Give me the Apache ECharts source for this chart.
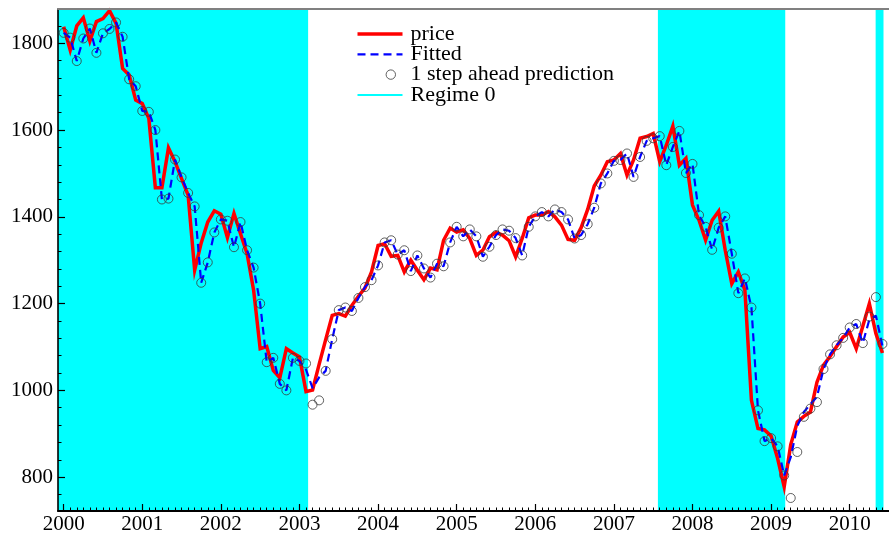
<!DOCTYPE html>
<html>
<head>
<meta charset="utf-8">
<script src="https://cdn.jsdelivr.net/npm/echarts@6/dist/echarts.min.js"></script>
<style>
  html, body { margin: 0; padding: 0; background: #ffffff; }
  #chart { width: 889px; height: 536px; }
</style>
</head>
<body>
<div id="chart"></div>
<script>
// Monthly series, first observation January 2000
const START_YEAR = 2000;

const price = [
  1838, 1784, 1840, 1859, 1805, 1850, 1857, 1875, 1846, 1742,
  1727, 1669, 1661, 1627, 1467, 1467, 1559, 1527, 1488, 1450,
  1277, 1340, 1388, 1414, 1406, 1352, 1408, 1361, 1315, 1231,
  1096, 1101, 1046, 1029, 1096, 1086, 1077, 997, 1001, 1060,
  1117, 1173, 1177, 1171, 1196, 1217, 1236, 1273, 1334, 1338,
  1309, 1311, 1273, 1300, 1277, 1255, 1282, 1278, 1346, 1374,
  1365, 1370, 1350, 1311, 1323, 1354, 1364, 1358, 1345, 1308,
  1350, 1398, 1404, 1404, 1412, 1400, 1381, 1348, 1346, 1375,
  1417, 1471, 1496, 1527, 1531, 1546, 1496, 1531, 1581, 1585,
  1592, 1527, 1565, 1609, 1519, 1535, 1427, 1392, 1346, 1392,
  1413, 1323, 1246, 1273, 1231, 977, 912, 909, 895, 843,
  778, 875, 927, 940, 950, 1019, 1058, 1078, 1101, 1123,
  1134, 1096, 1148, 1200, 1131, 1086
];

const fitted = [
  1824, 1813, 1759, 1811, 1834, 1778, 1823, 1833, 1848, 1815,
  1717, 1701, 1644, 1642, 1600, 1440, 1442, 1532, 1491, 1455,
  1424, 1248, 1295, 1364, 1394, 1391, 1330, 1388, 1323, 1283,
  1200, 1065, 1075, 1015, 1000, 1075, 1068, 1048, 1005, 1030,
  1045, 1118, 1185, 1191, 1183, 1213, 1238, 1254, 1288, 1341,
  1346, 1313, 1323, 1275, 1311, 1281, 1260, 1292, 1286, 1341,
  1377, 1355, 1371, 1355, 1308, 1331, 1358, 1371, 1368, 1351,
  1311, 1377, 1401, 1411, 1401, 1417, 1411, 1394, 1350, 1358,
  1383, 1421, 1477, 1500, 1529, 1531, 1546, 1492, 1538, 1575,
  1581, 1586, 1519, 1561, 1598, 1501, 1522, 1404, 1377, 1324,
  1375, 1401, 1315, 1224, 1258, 1191, 954, 883, 890, 871,
  804, 846, 918, 950, 968, 985, 1049, 1083, 1104, 1121,
  1145, 1153, 1109, 1163, 1172, 1102
];

const prediction = [
  1824, 1813, 1759, 1811, 1834, 1778, 1823, 1833, 1848, 1815,
  1717, 1701, 1644, 1642, 1600, 1440, 1442, 1532, 1491, 1455,
  1424, 1248, 1295, 1364, 1394, 1391, 1330, 1388, 1323, 1283,
  1200, 1065, 1075, 1015, 1000, 1075, 1068, 1062, 967, 977,
  1045, 1118, 1185, 1191, 1183, 1213, 1238, 1254, 1288, 1341,
  1346, 1313, 1323, 1275, 1311, 1281, 1260, 1292, 1286, 1341,
  1377, 1355, 1371, 1355, 1308, 1331, 1358, 1371, 1368, 1351,
  1311, 1377, 1401, 1411, 1401, 1417, 1411, 1394, 1350, 1358,
  1383, 1421, 1477, 1500, 1529, 1531, 1546, 1492, 1538, 1575,
  1581, 1586, 1519, 1561, 1598, 1501, 1522, 1404, 1377, 1324,
  1375, 1401, 1315, 1224, 1258, 1191, 954, 883, 890, 871,
  804, 752, 858, 939, 958, 973, 1049, 1083, 1104, 1121,
  1145, 1153, 1109, 1170, 1215, 1107
];

// Periods classified as regime 0 (decimal years)
const regimeZero = [
  [1999.928, 2003.11],
  [2007.56, 2009.18],
  [2010.33, 2010.43]
];

const yearTicks = [2000, 2001, 2002, 2003, 2004, 2005, 2006, 2007, 2008, 2009, 2010];
const valueTicks = [800, 1000, 1200, 1400, 1600, 1800];

const X_MIN = 1999.928, X_MAX = 2010.5;
const Y_MIN = 722, Y_MAX = 1879;

const toYear = i => START_YEAR + i / 12;
const asPairs = arr => arr.map((v, i) => [toYear(i), v]);

// Monthly minor ticks on the time axis, 40-unit minor ticks on the value axis
const monthTicks = [];
yearTicks.forEach(y => {
  for (let k = 0; k < 12; k++) {
    const v = y + k / 12;
    if (v <= X_MAX) monthTicks.push(v);
  }
});
const minorValueTicks = [];
for (let v = valueTicks[0] - 40; v < Y_MAX; v += 40) {
  if (v > Y_MIN) minorValueTicks.push(v);
}

const FONT = "'Liberation Serif', 'Times New Roman', serif";
const plainNumber = v => String(Math.round(v));

// Legend keys drawn as filled paths inside a 45x10 box
const KEY_SOLID = 'path://M0 0M45 10M0 3.25H45V6.75H0Z';
const KEY_DASHED = 'path://M0 0M45 10M0 3.9H8V6.1H0ZM13 3.9H21V6.1H13ZM26 3.9H34V6.1H26ZM39 3.9H45V6.1H39Z';
const KEY_CIRCLE = 'path://M0 0M45 10M38 5A4.7 4.7 0 1 1 28.6 5A4.7 4.7 0 1 1 38 5Z';
const KEY_THIN = 'path://M0 0M45 10M0 4H45V6H0Z';

const chart = echarts.init(document.getElementById('chart'), null, { renderer: 'canvas' });

chart.setOption({
  animation: false,
  backgroundColor: '#ffffff',
  grid: { left: 58, top: 9, width: 833, height: 502, containLabel: false },
  legend: {
    orient: 'vertical',
    left: 357,
    top: 23,
    padding: 0,
    itemWidth: 45,
    itemHeight: 10,
    itemGap: -1.7,
    selectedMode: false,
    textStyle: { fontFamily: FONT, fontSize: 22, color: '#000', padding: [0, 0, 0, 3] },
    data: [
      { name: 'price', icon: KEY_SOLID },
      { name: 'Fitted', icon: KEY_DASHED },
      { name: '1 step ahead prediction', icon: KEY_CIRCLE, itemStyle: { borderWidth: 1, borderColor: '#3a3a3a', color: 'rgba(0,0,0,0)' } },
      { name: 'Regime 0', icon: KEY_THIN }
    ]
  },
  xAxis: [
    {
      type: 'value', min: X_MIN, max: X_MAX, position: 'bottom', z: 5,
      axisLine: { show: true, onZero: false, lineStyle: { color: '#000', width: 2 } },
      axisTick: { show: true, inside: true, length: 7, customValues: yearTicks, lineStyle: { color: '#000', width: 1.2 } },
      axisLabel: { show: true, customValues: yearTicks, margin: 3, fontFamily: FONT, fontSize: 21, color: '#000', formatter: plainNumber },
      splitLine: { show: false }
    },
    {
      type: 'value', min: X_MIN, max: X_MAX, position: 'bottom', z: 5,
      axisLine: { show: false },
      axisTick: { show: true, inside: true, length: 3.5, customValues: monthTicks, lineStyle: { color: '#000', width: 1 } },
      axisLabel: { show: false },
      splitLine: { show: false }
    },
    {
      type: 'value', min: X_MIN, max: X_MAX, position: 'top', z: 5,
      axisLine: { show: true, onZero: false, lineStyle: { color: '#808080', width: 2 } },
      axisTick: { show: false },
      axisLabel: { show: false },
      splitLine: { show: false }
    }
  ],
  yAxis: [
    {
      type: 'value', min: Y_MIN, max: Y_MAX, position: 'left', z: 5,
      axisLine: { show: true, onZero: false, lineStyle: { color: '#000', width: 1.6 } },
      axisTick: { show: true, inside: true, length: 7, customValues: valueTicks, lineStyle: { color: '#000', width: 1.2 } },
      axisLabel: { show: true, customValues: valueTicks, margin: 5, fontFamily: FONT, fontSize: 21, color: '#000', formatter: plainNumber },
      splitLine: { show: false }
    },
    {
      type: 'value', min: Y_MIN, max: Y_MAX, position: 'left', z: 5,
      axisLine: { show: false },
      axisTick: { show: true, inside: true, length: 3.5, customValues: minorValueTicks, lineStyle: { color: '#000', width: 1 } },
      axisLabel: { show: false },
      splitLine: { show: false }
    }
  ],
  series: [
    {
      name: 'Regime 0',
      type: 'line',
      z: 0,
      data: [],
      symbol: 'none',
      color: '#00ffff',
      itemStyle: { color: '#00ffff', borderWidth: 0 },
      lineStyle: { color: '#00ffff', width: 2 },
      markArea: {
        silent: true,
        itemStyle: { color: '#00ffff', opacity: 1 },
        data: regimeZero.map(([a, b]) => [{ xAxis: a }, { xAxis: b }])
      }
    },
    {
      name: 'price',
      type: 'line',
      z: 3,
      data: asPairs(price),
      symbol: 'none',
      color: '#ff0000',
      itemStyle: { color: '#ff0000', borderWidth: 0 },
      lineStyle: { color: '#ff0000', width: 3.5, join: 'miter' }
    },
    {
      name: 'Fitted',
      type: 'line',
      z: 4,
      data: asPairs(fitted),
      symbol: 'none',
      color: '#0000ff',
      itemStyle: { color: '#0000ff', borderWidth: 0 },
      lineStyle: { color: '#0000ff', width: 2.2, type: [8, 5] }
    },
    {
      name: '1 step ahead prediction',
      type: 'scatter',
      z: 5,
      data: asPairs(prediction),
      symbol: 'circle',
      symbolSize: 9,
      itemStyle: { color: 'rgba(0,0,0,0)', borderColor: '#3a3a3a', borderWidth: 1 }
    }
  ]
});
</script>
</body>
</html>
